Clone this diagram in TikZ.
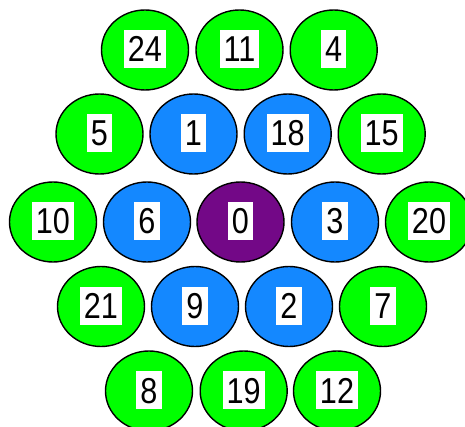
\documentclass[tikz,border=0pt]{standalone}
\usepackage{fontspec}
\newfontfamily\numfont[FakeStretch=0.85]{Liberation Sans}
\usetikzlibrary{shapes.geometric}
\definecolor{discgreen}{RGB}{0,255,0}
\definecolor{discblue}{RGB}{20,136,255}
\definecolor{discpurple}{RGB}{115,8,135}
\tikzset{
  disc/.style={ellipse, draw=black, line width=1.4pt, minimum width=87pt, minimum height=80pt, inner sep=0pt},
  gdisc/.style={disc, fill=discgreen},
  bdisc/.style={disc, fill=discblue},
  pdisc/.style={disc, fill=discpurple},
  numbox/.style={fill=white, inner xsep=4pt, inner ysep=6pt, text height=26pt, text depth=0pt,
    font=\numfont\fontsize{36}{36}\selectfont, text=black}
}
\begin{document}
\begin{tikzpicture}[x=1pt,y=-1pt]
\useasboundingbox (0,0) rectangle (465,427);
\fill[white] (0,0) rectangle (465,427);
% row 1
\node[gdisc] (d24) at (145,50) {};
\node[gdisc] (d11) at (239.5,50) {};
\node[gdisc] (d4) at (333.7,50) {};
% row 2
\node[gdisc] (d5) at (99.5,134) {};
\node[bdisc] (d1) at (193.5,134) {};
\node[bdisc] (d18) at (287.7,134) {};
\node[gdisc] (d15) at (381.7,134) {};
% row 3
\node[gdisc] (d10) at (53,222) {};
\node[bdisc] (d6) at (147,222) {};
\node[pdisc] (d0) at (240.5,222) {};
\node[bdisc] (d3) at (335,222) {};
\node[gdisc] (d20) at (429,222) {};
% row 4
\node[gdisc] (d21) at (101,306.5) {};
\node[bdisc] (d9) at (195,306.5) {};
\node[bdisc] (d2) at (289,306.5) {};
\node[gdisc] (d7) at (383,306.5) {};
% row 5
\node[gdisc] (d8) at (149,391) {};
\node[gdisc] (d19) at (243.7,391) {};
\node[gdisc] (d12) at (337,391) {};
% labels
\foreach \n in {24,11,4,5,1,18,15,10,6,0,3,20,21,9,2,7,8,19,12}{
  \node[numbox] (l\n) at ([yshift=1pt]d\n.center) {\n};
}
\end{tikzpicture}
\end{document}
